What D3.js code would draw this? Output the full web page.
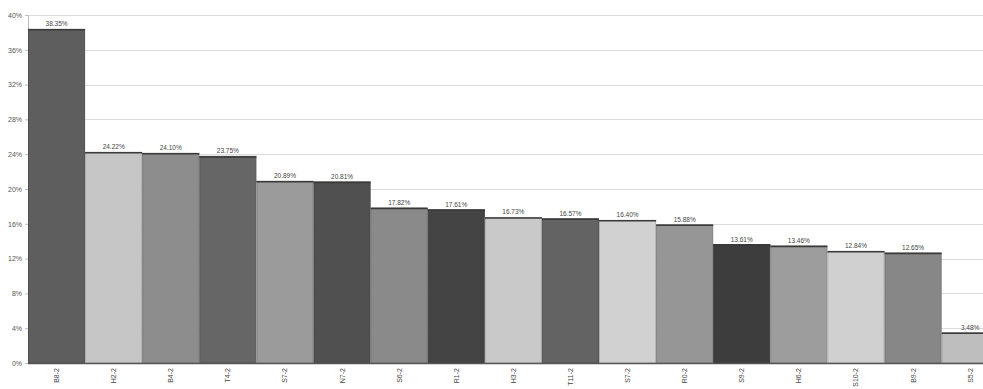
<!DOCTYPE html>
<html>
<head>
<meta charset="utf-8">
<script src="https://cdn.jsdelivr.net/npm/d3@7"></script>
<style>
  html, body { margin: 0; padding: 0; background: #fff; overflow: hidden; }
  svg { display: block; font-family: "Liberation Sans", Arial, sans-serif; }
</style>
</head>
<body>
<svg id="chart" width="983" height="389"></svg>
<script>
// Categories, values (percent) and bar shades
const categories = ["B8-2","H2-2","B4-2","T4-2","S7-2","N7-2","S6-2","R1-2","H3-2","T11-2","S7-2 ","R0-2","S9-2","H6-2","S10-2","B9-2","S5-2"];
const values = [38.35, 24.22, 24.10, 23.75, 20.89, 20.81, 17.82, 17.61, 16.73, 16.57, 16.40, 15.88, 13.61, 13.46, 12.84, 12.65, 3.48];
const shades = ["#5e5e5e","#c6c6c6","#8d8d8d","#666666","#9b9b9b","#505050","#8a8a8a","#444444","#c9c9c9","#636363","#d1d1d1","#969696","#3d3d3d","#9d9d9d","#d0d0d0","#878787","#bebebe"];
const yTicks = [0, 4, 8, 12, 16, 20, 24, 28, 32, 36, 40];

const svg = d3.select("#chart");
const plotLeft = 28, plotTop = 15, plotBottom = 363;
const step = 57.1;

const x = d3.scaleBand()
  .domain(d3.range(categories.length))
  .range([plotLeft, plotLeft + step * categories.length])
  .padding(0);

const y = d3.scaleLinear().domain([0, 40]).range([plotBottom, plotTop]);

// Horizontal gridlines
svg.append("g")
  .selectAll("line")
  .data(yTicks)
  .join("line")
  .attr("x1", plotLeft)
  .attr("x2", 983)
  .attr("y1", d => Math.round(y(d)) + 0.5)
  .attr("y2", d => Math.round(y(d)) + 0.5)
  .attr("stroke", "#dcdcdc")
  .attr("stroke-width", 1);

// Y axis
const yAxis = d3.axisLeft(y)
  .tickValues(yTicks)
  .tickFormat(d => d + "%")
  .tickSize(3)
  .tickPadding(3);
const gy = svg.append("g").attr("transform", `translate(${plotLeft},0)`).call(yAxis);
gy.select(".domain").attr("stroke", "#bdbdbd");
gy.selectAll(".tick line").attr("stroke", "#bdbdbd");
gy.selectAll("text").attr("fill", "#555").style("font-size", "7px");

// Bars
svg.append("g")
  .selectAll("rect")
  .data(values)
  .join("rect")
  .attr("x", (d, i) => x(i) + 0.5)
  .attr("y", d => y(d))
  .attr("width", x.bandwidth() - 1)
  .attr("height", d => y(0) - y(d))
  .attr("fill", (d, i) => shades[i])
  .attr("stroke", (d, i) => d3.color(shades[i]).darker(0.45))
  .attr("stroke-width", 1);

// Top edge accent on each bar
svg.append("g")
  .selectAll("line")
  .data(values)
  .join("line")
  .attr("x1", (d, i) => x(i))
  .attr("x2", (d, i) => x(i) + x.bandwidth())
  .attr("y1", d => y(d) + 0.5)
  .attr("y2", d => y(d) + 0.5)
  .attr("stroke", "#3a3a3a")
  .attr("stroke-width", 1.5);

// Baseline
svg.append("line")
  .attr("x1", plotLeft).attr("x2", 983)
  .attr("y1", y(0) + 0.5).attr("y2", y(0) + 0.5)
  .attr("stroke", "#555").attr("stroke-width", 1.5);

// Value labels
svg.append("g")
  .selectAll("text")
  .data(values)
  .join("text")
  .attr("x", (d, i) => x(i) + x.bandwidth() / 2)
  .attr("y", d => y(d) - 3)
  .attr("text-anchor", "middle")
  .attr("fill", "#444")
  .style("font-size", "6.5px")
  .text(d => d.toFixed(2) + "%");

// Category labels, rotated
svg.append("g")
  .selectAll("text")
  .data(categories)
  .join("text")
  .attr("transform", (d, i) => `translate(${x(i) + x.bandwidth() / 2 + 2.5},368) rotate(-90)`)
  .attr("text-anchor", "end")
  .attr("fill", "#444")
  .style("font-size", "7px")
  .text(d => d.trim());
</script>
</body>
</html>
